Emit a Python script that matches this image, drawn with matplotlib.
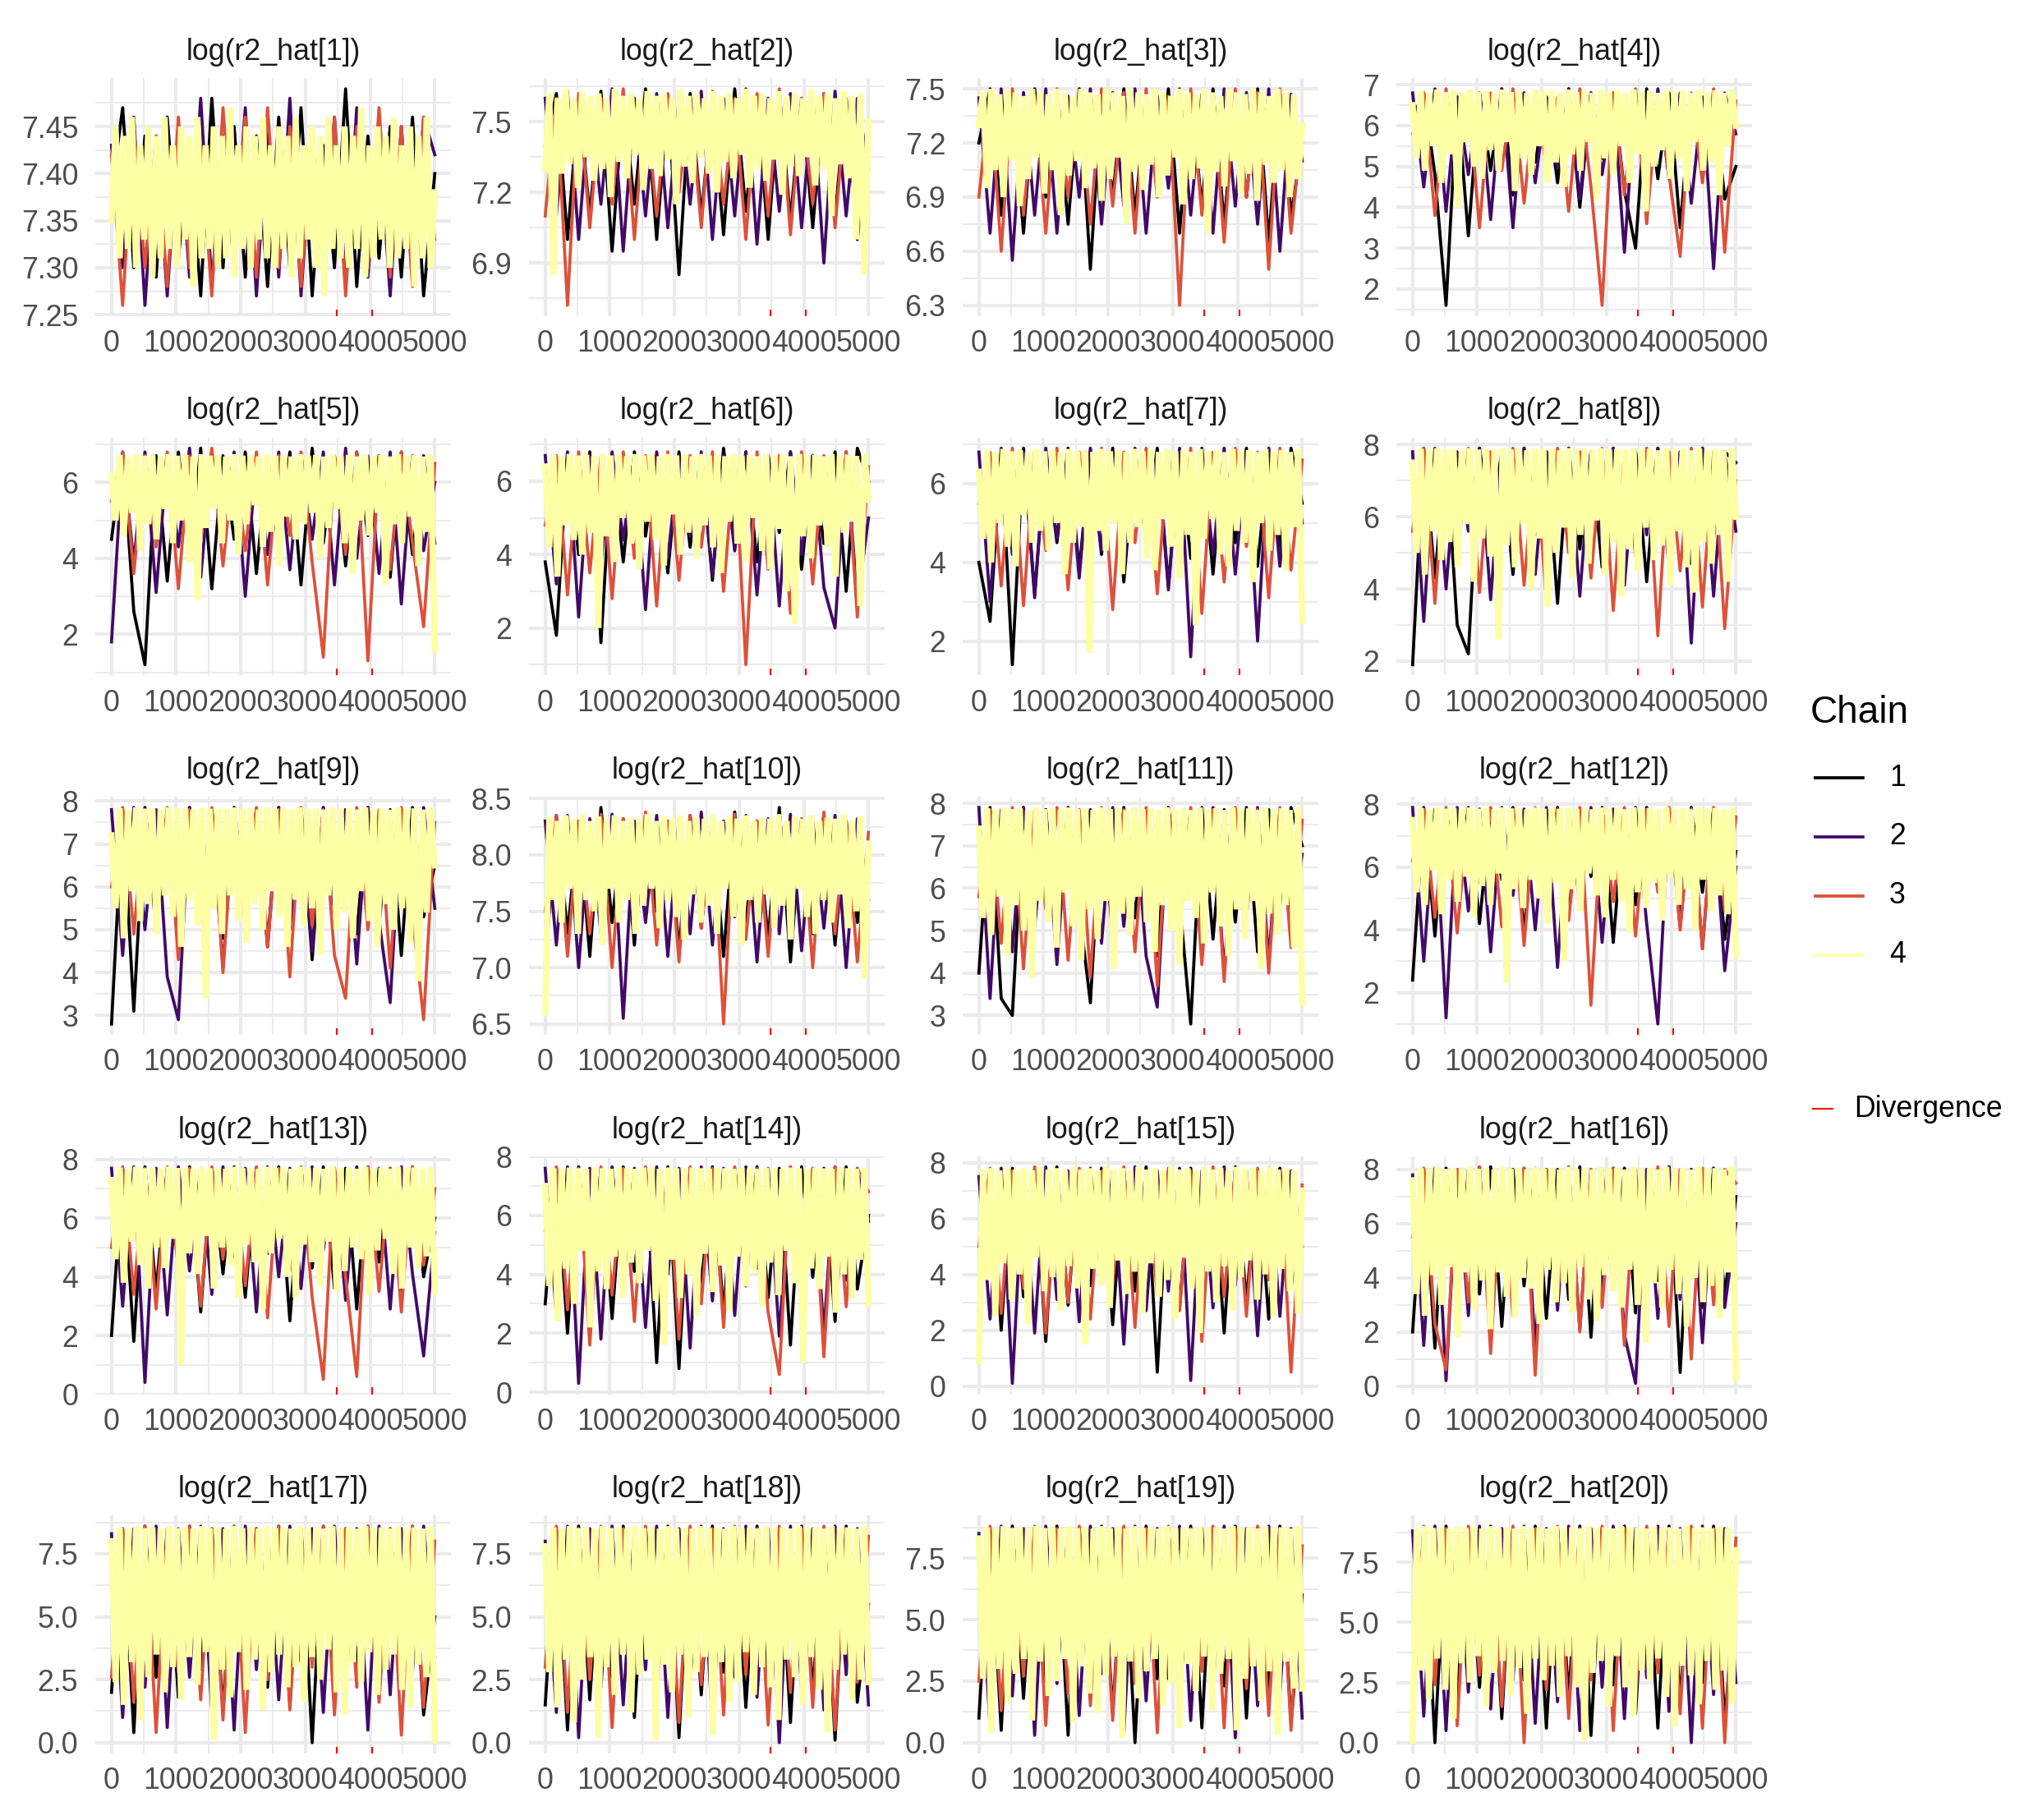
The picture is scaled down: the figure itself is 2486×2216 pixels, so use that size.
import numpy as np
import matplotlib.pyplot as plt
from matplotlib.lines import Line2D

plt.rcParams['font.family'] = ['Liberation Sans', 'DejaVu Sans']

chain_colors = ['#000004', '#420A68', '#DD513A', '#FCFFA4']
chain_labels = ['1', '2', '3', '4']
divergences = [3490, 4030]
n_iter = 5000

trace_01 = [
    [7.38, 7.47, 7.30, 7.44, 7.29, 7.46, 7.31, 7.43, 7.27, 7.48, 7.30, 7.45, 7.29, 7.44, 7.28, 7.46, 7.30, 7.47, 7.27, 7.43, 7.30, 7.49, 7.28, 7.44, 7.31, 7.45, 7.29, 7.46, 7.27, 7.40],
    [7.43, 7.30, 7.46, 7.26, 7.44, 7.27, 7.45, 7.29, 7.48, 7.28, 7.44, 7.30, 7.47, 7.27, 7.45, 7.29, 7.48, 7.27, 7.44, 7.30, 7.46, 7.28, 7.47, 7.29, 7.44, 7.27, 7.45, 7.29, 7.46, 7.42],
    [7.42, 7.26, 7.45, 7.30, 7.44, 7.28, 7.46, 7.30, 7.43, 7.27, 7.47, 7.31, 7.46, 7.29, 7.47, 7.30, 7.45, 7.28, 7.44, 7.30, 7.46, 7.27, 7.45, 7.30, 7.47, 7.29, 7.45, 7.28, 7.46, 7.33],
    [7.35, 7.45, 7.31, 7.44, 7.32, 7.46, 7.30, 7.43, 7.33, 7.45, 7.29, 7.44, 7.31, 7.46, 7.32, 7.43, 7.30, 7.45, 7.33, 7.44, 7.28, 7.46, 7.31, 7.43, 7.32, 7.45, 7.30, 7.44, 7.31, 7.47, 7.29, 7.43, 7.32, 7.45, 7.30, 7.44, 7.33, 7.46, 7.31, 7.43,
     7.30, 7.45, 7.32, 7.44, 7.29, 7.46, 7.31, 7.43, 7.33, 7.45, 7.30, 7.44, 7.27, 7.46, 7.32, 7.43, 7.31, 7.45, 7.30, 7.44, 7.32, 7.47, 7.29, 7.43, 7.31, 7.45, 7.33, 7.44, 7.30, 7.46, 7.31, 7.43, 7.32, 7.45, 7.28, 7.44, 7.31, 7.46, 7.30, 7.38],
]
trace_02 = [
    [7.4, 7.62, 7.0, 7.6, 7.1, 7.63, 6.95, 7.6, 7.15, 7.64, 7.0, 7.6, 6.85, 7.62, 7.1, 7.58, 7.02, 7.64, 7.12, 7.6, 7.0, 7.63, 7.08, 7.6, 7.05, 7.62, 7.1, 7.6, 7.0, 7.4],
    [7.6, 7.1, 7.63, 7.0, 7.6, 7.15, 7.64, 6.95, 7.6, 7.1, 7.62, 7.05, 7.6, 7.15, 7.63, 7.0, 7.6, 7.1, 7.64, 6.98, 7.6, 7.12, 7.62, 7.05, 7.6, 6.9, 7.63, 7.1, 7.6, 7.3],
    [7.1, 7.6, 6.72, 7.62, 7.05, 7.6, 7.15, 7.64, 7.0, 7.6, 7.1, 7.62, 7.2, 7.6, 7.05, 7.63, 7.15, 7.6, 7.0, 7.62, 7.1, 7.64, 7.02, 7.6, 7.15, 7.62, 7.05, 7.6, 7.1, 7.4],
    [7.30, 7.62, 6.85, 7.60, 7.28, 7.64, 7.32, 7.60, 7.22, 7.63, 7.35, 7.61, 7.25, 7.62, 7.30, 7.60, 7.18, 7.64, 7.33, 7.61, 7.26, 7.62, 7.36, 7.60, 7.21, 7.63, 7.30, 7.61, 7.27, 7.62, 7.34, 7.60, 7.15, 7.64, 7.31, 7.61, 7.24, 7.62, 7.35, 7.60,
     7.28, 7.63, 7.20, 7.61, 7.33, 7.62, 7.26, 7.60, 7.36, 7.64, 7.22, 7.61, 7.30, 7.62, 7.25, 7.60, 7.34, 7.63, 7.19, 7.61, 7.31, 7.62, 7.27, 7.60, 7.35, 7.64, 7.23, 7.61, 7.30, 7.62, 7.10, 7.60, 7.32, 7.63, 7.26, 7.61, 7.00, 7.62, 6.85, 7.50],
]
trace_03 = [
    [7.2, 7.5, 6.8, 7.48, 6.7, 7.5, 6.9, 7.45, 6.75, 7.5, 6.5, 7.47, 6.9, 7.5, 6.8, 7.46, 6.95, 7.5, 6.7, 7.48, 6.85, 7.5, 6.75, 7.46, 6.9, 7.5, 6.65, 7.48, 6.8, 7.2],
    [7.45, 6.7, 7.5, 6.55, 7.48, 6.8, 7.5, 6.7, 7.46, 6.9, 7.5, 6.75, 7.48, 6.85, 7.5, 6.7, 7.46, 6.95, 7.5, 6.8, 7.47, 6.7, 7.5, 6.85, 7.48, 6.75, 7.5, 6.6, 7.47, 7.1],
    [6.9, 7.48, 6.6, 7.5, 6.8, 7.46, 6.7, 7.5, 6.9, 7.47, 6.75, 7.5, 6.85, 7.48, 6.7, 7.5, 6.9, 7.46, 6.3, 7.5, 6.8, 7.47, 6.65, 7.5, 6.9, 7.48, 6.5, 7.5, 6.7, 7.3],
    [7.30, 7.48, 6.95, 7.50, 7.05, 7.47, 6.90, 7.50, 7.10, 7.48, 6.85, 7.46, 7.00, 7.50, 7.12, 7.48, 6.92, 7.47, 7.05, 7.50, 6.80, 7.48, 7.02, 7.46, 7.10, 7.50, 6.95, 7.48, 7.06, 7.47, 6.88, 7.50, 7.00, 7.48, 7.12, 7.46, 6.75, 7.50, 7.04, 7.48,
     6.94, 7.47, 7.08, 7.50, 6.90, 7.48, 7.02, 7.46, 7.12, 7.50, 6.86, 7.48, 7.00, 7.47, 7.06, 7.50, 6.70, 7.48, 7.04, 7.46, 6.96, 7.50, 7.10, 7.48, 6.92, 7.47, 7.03, 7.50, 6.88, 7.48, 7.08, 7.46, 6.98, 7.50, 7.05, 7.48, 6.90, 7.47, 7.00, 7.30],
]
trace_04 = [
    [6.2, 6.8, 4.8, 1.6, 6.7, 3.3, 6.8, 4.9, 6.9, 4.3, 6.8, 5.1, 6.7, 4.6, 6.9, 4.0, 6.8, 5.2, 6.8, 4.4, 3.0, 6.9, 4.7, 6.8, 3.5, 6.7, 4.9, 6.8, 4.2, 5.0],
    [6.8, 4.5, 6.9, 3.9, 6.7, 4.8, 6.8, 3.7, 6.9, 3.5, 6.8, 4.6, 6.7, 5.0, 6.9, 4.2, 6.8, 4.8, 6.7, 2.9, 6.8, 4.4, 6.9, 4.7, 6.8, 4.1, 6.7, 2.5, 6.8, 5.8],
    [5.8, 6.8, 3.8, 6.9, 4.6, 6.7, 3.5, 6.8, 4.9, 6.9, 4.1, 6.8, 5.0, 6.7, 3.9, 6.9, 4.5, 1.6, 6.8, 4.3, 6.9, 3.6, 6.7, 4.8, 2.8, 6.8, 4.6, 6.9, 2.9, 6.6],
    [6.50, 5.20, 6.85, 4.90, 6.80, 5.50, 6.88, 4.60, 6.82, 5.30, 6.86, 4.00, 6.80, 5.60, 6.88, 5.00, 6.83, 4.70, 6.85, 5.40, 6.80, 4.90, 6.88, 5.60, 6.82, 4.40, 6.86, 5.20, 6.80, 4.80, 6.88, 5.50, 6.83, 4.60, 6.85, 5.10, 6.80, 4.50, 6.88, 5.30,
     6.82, 4.90, 6.86, 5.60, 6.80, 4.20, 6.88, 5.20, 6.83, 4.80, 6.85, 5.50, 6.80, 4.60, 6.88, 5.30, 6.82, 3.90, 6.86, 5.00, 6.80, 5.40, 6.88, 4.70, 6.83, 5.20, 6.85, 4.40, 6.80, 5.60, 6.88, 4.90, 6.82, 5.10, 6.86, 4.30, 6.80, 5.50, 6.88, 6.00],
]
trace_05 = [
    [4.5, 6.8, 2.6, 1.2, 6.7, 3.4, 6.8, 4.0, 6.9, 3.2, 6.7, 4.5, 6.8, 3.6, 6.7, 4.2, 6.8, 3.3, 6.9, 4.4, 6.7, 3.8, 6.8, 4.6, 6.7, 3.5, 6.8, 4.1, 6.7, 4.4],
    [1.8, 6.7, 3.9, 6.8, 3.1, 6.7, 4.3, 6.9, 3.5, 6.7, 4.6, 6.8, 3.0, 6.7, 4.1, 6.8, 3.7, 6.7, 4.5, 6.8, 3.3, 6.9, 4.0, 6.7, 3.6, 6.8, 2.8, 6.7, 4.2, 6.0],
    [5.5, 6.8, 3.6, 6.7, 4.3, 6.8, 3.2, 6.7, 4.5, 6.9, 3.8, 6.7, 4.2, 6.8, 3.3, 6.7, 4.6, 6.8, 3.9, 1.4, 6.7, 4.1, 6.8, 1.3, 6.7, 3.7, 6.8, 4.4, 2.2, 6.5],
    [6.20, 5.00, 6.72, 4.60, 6.68, 5.20, 6.74, 4.20, 6.70, 4.90, 6.72, 4.50, 6.68, 5.30, 6.74, 4.40, 6.70, 5.00, 6.72, 3.90, 6.68, 2.90, 6.74, 4.80, 6.70, 5.30, 6.72, 4.40, 6.68, 5.00, 6.74, 4.10, 6.70, 4.90, 6.72, 5.40, 6.68, 4.30, 6.74, 4.70,
     6.70, 3.80, 6.72, 5.10, 6.68, 4.50, 6.74, 4.90, 6.70, 5.20, 6.72, 4.00, 6.68, 4.80, 6.74, 5.30, 6.70, 4.40, 6.72, 3.60, 6.68, 5.00, 6.74, 4.60, 6.70, 5.20, 6.72, 3.30, 6.68, 4.90, 6.74, 4.40, 6.70, 5.10, 6.72, 3.80, 6.68, 4.70, 6.74, 1.60],
]
trace_06 = [
    [3.8, 1.8, 6.7, 4.0, 6.8, 1.6, 6.7, 3.8, 6.8, 4.5, 6.7, 3.5, 6.8, 4.2, 6.7, 3.3, 6.9, 4.4, 6.8, 3.8, 6.7, 4.6, 6.8, 3.6, 6.7, 4.3, 6.8, 3.0, 6.9, 6.0],
    [6.7, 3.2, 6.8, 2.3, 6.7, 3.7, 6.8, 4.4, 6.7, 2.5, 6.8, 3.9, 6.7, 4.5, 6.8, 3.4, 6.7, 4.1, 6.8, 2.9, 6.7, 2.6, 6.8, 4.0, 6.7, 3.1, 2.0, 6.8, 2.7, 5.0],
    [4.8, 6.7, 2.9, 6.8, 3.5, 6.7, 2.8, 6.8, 3.9, 6.7, 2.6, 6.8, 3.3, 6.7, 4.2, 6.8, 3.0, 6.7, 1.0, 6.8, 3.6, 6.7, 2.4, 6.8, 3.2, 6.7, 4.0, 6.8, 2.3, 6.4],
    [6.40, 4.20, 6.72, 3.40, 6.68, 4.80, 6.74, 4.40, 6.70, 4.00, 6.72, 4.60, 6.68, 2.00, 6.74, 4.50, 6.70, 3.80, 6.72, 5.00, 6.68, 4.30, 6.74, 3.60, 6.70, 4.90, 6.72, 4.40, 6.68, 3.70, 6.74, 5.10, 6.70, 4.00, 6.72, 4.60, 6.68, 3.90, 6.74, 4.80,
     6.70, 4.20, 6.72, 3.50, 6.68, 4.90, 6.74, 4.30, 6.70, 3.80, 6.72, 5.00, 6.68, 4.10, 6.74, 3.60, 6.70, 4.70, 6.72, 3.00, 6.68, 2.10, 6.74, 4.50, 6.70, 3.90, 6.72, 4.80, 6.68, 4.20, 6.74, 3.40, 6.70, 4.60, 6.72, 4.90, 6.68, 2.60, 6.74, 5.50],
]
trace_07 = [
    [4.0, 2.5, 6.8, 1.4, 6.9, 3.2, 6.8, 4.5, 6.9, 3.8, 6.8, 4.2, 6.9, 3.5, 6.8, 4.8, 6.9, 3.4, 6.8, 4.1, 6.9, 3.7, 6.8, 4.5, 6.9, 3.9, 6.8, 4.3, 6.9, 5.5],
    [6.8, 3.0, 6.9, 4.2, 6.8, 3.1, 6.9, 4.6, 6.8, 3.6, 6.9, 4.3, 6.8, 3.8, 6.9, 4.5, 6.8, 3.3, 6.9, 1.6, 6.8, 4.2, 6.9, 3.7, 6.8, 2.0, 6.9, 3.9, 6.8, 5.0],
    [5.5, 6.8, 3.4, 6.9, 2.9, 6.8, 4.3, 6.9, 3.3, 6.8, 4.0, 6.9, 2.8, 6.8, 4.5, 6.9, 3.2, 6.8, 3.9, 6.9, 2.7, 6.8, 3.5, 6.9, 4.4, 6.8, 3.1, 6.9, 3.8, 6.6],
    [6.30, 4.60, 6.85, 4.00, 6.80, 5.00, 6.88, 4.40, 6.82, 3.90, 6.85, 5.20, 6.80, 4.50, 6.88, 4.80, 6.82, 4.30, 6.85, 5.00, 6.80, 3.70, 6.88, 4.50, 6.82, 4.90, 6.85, 1.70, 6.80, 4.80, 6.88, 4.30, 6.82, 5.00, 6.85, 3.70, 6.80, 4.50, 6.88, 4.90,
     6.82, 4.10, 6.85, 3.80, 6.80, 5.10, 6.88, 4.40, 6.82, 3.60, 6.85, 4.70, 6.80, 2.40, 6.88, 4.60, 6.82, 5.10, 6.85, 4.20, 6.80, 3.90, 6.88, 4.80, 6.82, 4.50, 6.85, 3.50, 6.80, 5.00, 6.88, 4.30, 6.82, 4.70, 6.85, 3.80, 6.80, 4.90, 6.88, 2.50],
]
trace_08 = [
    [1.9, 7.9, 4.3, 7.8, 3.0, 2.2, 7.9, 5.8, 7.8, 4.4, 7.9, 5.5, 7.8, 3.6, 7.9, 5.1, 7.8, 4.6, 7.9, 5.9, 7.8, 4.2, 7.9, 5.0, 7.8, 4.7, 7.9, 5.4, 7.8, 7.5],
    [7.8, 3.1, 7.9, 4.0, 7.8, 5.6, 7.9, 3.7, 7.8, 5.0, 7.9, 4.4, 7.8, 5.8, 7.9, 3.8, 7.8, 5.2, 7.9, 4.1, 7.8, 5.5, 7.9, 4.6, 7.8, 2.5, 7.9, 3.8, 7.8, 5.6],
    [5.6, 7.9, 3.6, 7.8, 4.8, 7.9, 3.9, 7.8, 5.3, 7.9, 4.1, 7.8, 3.7, 7.9, 5.0, 7.8, 4.3, 7.9, 3.4, 7.8, 4.9, 7.9, 2.7, 7.8, 4.5, 7.9, 3.5, 7.8, 2.9, 7.0],
    [7.50, 5.00, 7.88, 4.40, 7.84, 5.60, 7.90, 4.80, 7.86, 5.30, 7.88, 4.60, 7.84, 5.80, 7.90, 4.20, 7.86, 5.40, 7.88, 4.90, 7.84, 2.60, 7.90, 5.20, 7.86, 4.60, 7.88, 5.80, 7.84, 4.00, 7.90, 5.40, 7.86, 3.50, 7.88, 5.00, 7.84, 5.70, 7.90, 4.30,
     7.86, 5.50, 7.88, 4.70, 7.84, 5.90, 7.90, 4.40, 7.86, 5.30, 7.88, 3.80, 7.84, 5.10, 7.90, 4.50, 7.86, 5.70, 7.88, 4.80, 7.84, 5.20, 7.90, 4.10, 7.86, 5.60, 7.88, 4.60, 7.84, 3.90, 7.90, 5.30, 7.86, 4.70, 7.88, 5.50, 7.84, 4.20, 7.90, 6.00],
]
trace_09 = [
    [2.8, 7.8, 3.1, 7.85, 5.0, 7.8, 4.5, 7.85, 5.5, 7.8, 4.8, 7.85, 5.7, 7.8, 4.6, 7.85, 5.2, 7.8, 4.3, 7.85, 5.6, 7.8, 4.9, 7.85, 5.1, 7.8, 4.4, 7.85, 5.3, 6.5],
    [7.8, 4.4, 7.85, 5.0, 7.8, 3.9, 2.9, 7.85, 5.3, 7.8, 4.1, 7.85, 5.6, 7.8, 4.7, 7.85, 5.0, 7.8, 4.5, 7.85, 5.4, 7.8, 4.2, 7.85, 5.2, 3.3, 7.8, 4.8, 7.85, 5.5],
    [6.0, 7.85, 4.9, 7.8, 5.4, 7.85, 4.3, 7.8, 5.6, 7.85, 4.0, 7.8, 5.2, 7.85, 4.6, 7.8, 3.9, 7.85, 5.1, 7.8, 4.4, 3.4, 7.85, 5.0, 7.8, 4.1, 7.85, 5.3, 2.9, 7.5],
    [7.20, 5.50, 7.83, 4.80, 7.80, 5.90, 7.85, 5.20, 7.82, 5.60, 7.83, 4.90, 7.80, 5.80, 7.85, 5.30, 7.82, 4.60, 7.83, 5.70, 7.80, 5.10, 7.85, 3.40, 7.82, 5.50, 7.83, 4.90, 7.80, 5.80, 7.85, 5.20, 7.82, 4.70, 7.83, 5.60, 7.80, 5.00, 7.85, 5.90,
     7.82, 5.30, 7.83, 4.60, 7.80, 5.70, 7.85, 5.10, 7.82, 5.50, 7.83, 4.40, 7.80, 5.80, 7.85, 5.00, 7.82, 5.40, 7.83, 4.80, 7.80, 5.90, 7.85, 5.20, 7.82, 4.60, 7.83, 5.60, 7.80, 5.00, 7.85, 5.50, 7.82, 4.70, 7.83, 3.80, 7.80, 5.40, 7.85, 6.50],
]
trace_10 = [
    [7.0, 8.35, 7.3, 8.3, 7.1, 8.42, 7.4, 8.32, 7.2, 8.36, 7.5, 8.3, 7.15, 8.35, 7.35, 8.32, 7.1, 8.38, 7.4, 8.3, 7.25, 8.42, 7.05, 8.32, 7.3, 8.36, 7.2, 8.3, 7.4, 8.0],
    [8.3, 7.2, 8.35, 7.0, 8.32, 7.3, 8.36, 6.55, 8.3, 7.4, 8.35, 7.1, 8.32, 7.3, 8.38, 7.2, 8.3, 7.45, 8.35, 7.05, 8.32, 7.3, 8.36, 7.15, 8.3, 7.35, 8.35, 7.0, 8.32, 7.6],
    [7.5, 8.35, 7.1, 8.3, 7.3, 8.36, 7.0, 8.32, 7.4, 8.38, 7.2, 8.3, 7.05, 8.35, 7.35, 8.32, 6.5, 8.36, 7.25, 8.3, 7.1, 8.35, 7.4, 8.32, 7.0, 8.38, 7.3, 8.3, 7.05, 8.2],
    [6.60, 8.33, 7.60, 8.30, 7.40, 8.35, 7.70, 8.32, 7.30, 8.36, 7.60, 8.30, 7.50, 8.34, 7.20, 8.32, 7.70, 8.35, 7.40, 8.30, 7.60, 8.33, 7.30, 8.32, 7.55, 8.36, 7.70, 8.30, 7.35, 8.34, 7.60, 8.32, 7.45, 8.35, 7.25, 8.30, 7.65, 8.33, 7.40, 8.32,
     7.55, 8.36, 7.30, 8.30, 7.70, 8.34, 7.45, 8.32, 7.20, 8.35, 7.60, 8.30, 7.40, 8.33, 7.65, 8.32, 7.35, 8.36, 7.55, 8.30, 7.25, 8.34, 7.70, 8.32, 7.45, 8.35, 7.30, 8.30, 7.60, 8.33, 7.40, 8.32, 7.65, 8.36, 7.35, 8.30, 7.50, 8.34, 6.90, 8.10],
]
trace_11 = [
    [4.0, 7.9, 3.4, 3.0, 7.9, 5.1, 7.85, 4.6, 7.9, 5.5, 3.3, 7.85, 4.9, 7.9, 5.3, 7.85, 4.4, 7.9, 5.7, 2.8, 7.9, 4.8, 7.85, 5.2, 7.9, 4.5, 7.85, 5.6, 7.9, 7.0],
    [7.9, 3.4, 7.85, 4.5, 7.9, 5.3, 7.85, 4.2, 7.9, 5.8, 7.85, 4.7, 7.9, 5.1, 7.85, 4.4, 3.2, 7.9, 5.5, 7.85, 4.6, 7.9, 4.0, 7.85, 5.4, 7.9, 4.3, 7.85, 5.0, 6.8],
    [5.8, 7.85, 4.7, 7.9, 4.1, 7.85, 5.5, 7.9, 4.3, 7.85, 3.9, 7.9, 5.2, 7.85, 4.5, 7.9, 3.7, 7.85, 5.0, 7.9, 4.2, 7.85, 3.8, 7.9, 5.3, 7.85, 4.0, 7.9, 4.6, 7.6],
    [7.40, 5.30, 7.88, 4.90, 7.84, 5.80, 7.90, 4.40, 7.86, 5.60, 7.88, 5.00, 7.84, 3.90, 7.90, 5.70, 7.86, 5.20, 7.88, 4.60, 7.84, 5.90, 7.90, 5.10, 7.86, 4.30, 7.88, 5.50, 7.84, 4.80, 7.90, 5.70, 7.86, 4.10, 7.88, 5.40, 7.84, 4.90, 7.90, 5.80,
     7.86, 5.20, 7.88, 4.50, 7.84, 5.60, 7.90, 5.00, 7.86, 4.20, 7.88, 5.70, 7.84, 5.30, 7.90, 4.70, 7.86, 5.90, 7.88, 5.10, 7.84, 4.40, 7.90, 5.50, 7.86, 4.80, 7.88, 5.70, 7.84, 4.10, 7.90, 5.40, 7.86, 4.90, 7.88, 5.60, 7.84, 4.60, 7.90, 3.30],
]
trace_12 = [
    [2.4, 7.9, 3.8, 7.85, 5.3, 7.9, 4.2, 7.85, 5.6, 7.9, 3.9, 7.85, 5.0, 7.9, 4.5, 7.85, 5.7, 7.9, 3.6, 7.85, 4.8, 7.9, 5.4, 7.85, 4.1, 7.9, 5.2, 7.85, 3.7, 6.5],
    [7.9, 3.0, 7.85, 1.2, 7.9, 4.6, 7.85, 3.3, 7.9, 5.1, 7.85, 4.0, 7.9, 2.8, 7.85, 4.8, 7.9, 3.6, 7.85, 5.3, 7.9, 4.2, 1.0, 7.85, 4.7, 7.9, 3.4, 7.85, 2.7, 6.0],
    [6.2, 7.85, 4.4, 7.9, 3.9, 7.85, 5.5, 7.9, 4.1, 7.85, 3.5, 7.9, 5.0, 7.85, 4.3, 7.9, 1.6, 7.85, 4.9, 7.9, 3.8, 7.85, 5.2, 7.9, 4.0, 7.85, 3.4, 7.9, 4.6, 7.6],
    [7.50, 5.20, 7.88, 4.80, 7.84, 5.90, 7.90, 4.50, 7.86, 5.60, 7.88, 4.90, 7.84, 5.70, 7.90, 4.40, 7.86, 5.40, 7.88, 4.80, 7.84, 5.80, 7.90, 2.30, 7.86, 5.30, 7.88, 4.70, 7.84, 5.60, 7.90, 5.00, 7.86, 4.20, 7.88, 5.50, 7.84, 3.00, 7.90, 5.30,
     7.86, 4.60, 7.88, 5.80, 7.84, 5.10, 7.90, 4.40, 7.86, 5.60, 7.88, 4.90, 7.84, 3.90, 7.90, 5.20, 7.86, 4.70, 7.88, 5.50, 7.84, 4.30, 7.90, 5.70, 7.86, 4.80, 7.88, 5.30, 7.84, 4.00, 7.90, 5.60, 7.86, 4.60, 7.88, 5.10, 7.84, 4.50, 7.90, 3.20],
]
trace_13 = [
    [2.0, 7.7, 1.8, 7.75, 3.5, 7.7, 4.6, 7.75, 2.8, 7.7, 4.1, 7.75, 3.3, 7.7, 4.8, 7.75, 2.5, 7.7, 4.3, 7.75, 3.6, 7.7, 2.9, 7.75, 4.5, 7.7, 3.1, 7.75, 4.0, 6.0],
    [7.7, 3.0, 7.75, 0.4, 7.7, 2.7, 7.75, 4.2, 7.7, 3.4, 7.75, 4.7, 7.7, 2.8, 7.75, 4.0, 7.7, 3.6, 7.75, 4.9, 7.7, 3.2, 7.75, 4.4, 7.7, 2.9, 7.75, 4.1, 1.3, 5.5],
    [5.0, 7.75, 3.4, 7.7, 2.9, 7.75, 4.3, 7.7, 3.0, 7.75, 4.6, 7.7, 3.7, 7.75, 2.6, 7.7, 4.2, 7.75, 3.3, 0.5, 7.7, 4.0, 0.6, 7.75, 3.5, 7.7, 2.8, 7.75, 4.4, 7.0],
    [7.30, 4.60, 7.72, 3.80, 7.68, 5.20, 7.75, 4.40, 7.70, 3.60, 7.72, 5.00, 7.68, 4.30, 7.75, 5.30, 7.70, 1.00, 7.72, 4.80, 7.68, 4.10, 7.75, 5.40, 7.70, 3.60, 7.72, 5.00, 7.68, 4.40, 7.75, 3.30, 7.70, 5.10, 7.72, 4.50, 7.68, 2.90, 7.75, 4.80,
     7.70, 5.30, 7.72, 4.00, 7.68, 3.30, 7.75, 5.10, 7.70, 4.50, 7.72, 3.70, 7.68, 5.20, 7.75, 3.50, 7.70, 4.20, 7.72, 5.00, 7.68, 4.60, 7.75, 3.40, 7.70, 4.90, 7.72, 5.30, 7.68, 4.10, 7.75, 3.60, 7.70, 5.00, 7.72, 4.30, 7.68, 4.70, 7.75, 3.50],
]
trace_14 = [
    [3.0, 7.6, 2.0, 7.65, 3.4, 7.6, 2.5, 7.65, 4.1, 7.6, 1.0, 7.65, 0.8, 7.6, 3.6, 7.65, 2.7, 7.6, 4.3, 7.65, 3.2, 7.6, 1.6, 7.65, 3.9, 7.6, 2.4, 7.65, 3.5, 6.0],
    [7.6, 2.6, 7.65, 0.3, 7.6, 1.8, 7.65, 3.7, 7.6, 2.2, 7.65, 4.0, 7.6, 1.5, 7.65, 3.1, 7.6, 2.6, 7.65, 4.2, 7.6, 1.9, 7.65, 3.3, 7.6, 2.0, 7.65, 3.8, 7.6, 5.8],
    [5.5, 7.65, 2.8, 7.6, 1.6, 7.65, 3.3, 7.6, 2.4, 7.65, 3.9, 7.6, 1.8, 7.65, 3.0, 7.6, 2.2, 7.65, 3.6, 7.6, 2.7, 0.6, 7.65, 3.4, 7.6, 1.2, 7.65, 2.9, 7.6, 6.8],
    [7.00, 3.60, 7.60, 2.40, 7.58, 4.20, 7.62, 3.00, 7.60, 4.80, 7.58, 2.20, 7.62, 4.10, 7.60, 3.50, 7.58, 4.60, 7.62, 3.20, 7.60, 4.40, 7.58, 3.70, 7.62, 4.80, 7.60, 3.10, 7.58, 1.60, 7.62, 4.50, 7.60, 3.20, 7.58, 4.00, 7.62, 2.60, 7.60, 4.70,
     7.58, 3.40, 7.62, 4.30, 7.60, 2.80, 7.58, 4.60, 7.62, 3.60, 7.60, 4.10, 7.58, 2.90, 7.62, 4.40, 7.60, 3.30, 7.58, 4.80, 7.62, 3.70, 7.60, 1.00, 7.58, 4.20, 7.62, 3.50, 7.60, 4.60, 7.58, 2.70, 7.62, 4.00, 7.60, 3.20, 7.58, 4.50, 7.62, 3.00],
]
trace_15 = [
    [2.7, 7.7, 2.0, 7.8, 3.2, 7.7, 1.6, 7.85, 2.9, 7.7, 3.6, 7.8, 2.2, 7.7, 3.4, 7.85, 0.5, 7.7, 2.8, 7.8, 3.7, 7.7, 1.9, 7.85, 3.0, 7.7, 2.4, 7.8, 3.5, 6.5],
    [7.5, 2.4, 7.8, 0.1, 7.7, 1.9, 7.85, 3.1, 7.7, 2.3, 7.8, 3.8, 7.7, 1.5, 7.85, 2.7, 7.7, 3.4, 7.8, 0.2, 7.7, 2.8, 7.85, 3.6, 7.7, 1.8, 7.8, 2.5, 7.7, 5.0],
    [5.0, 7.8, 2.6, 7.7, 3.5, 7.85, 1.9, 7.7, 3.0, 7.8, 2.4, 7.7, 3.7, 7.85, 2.1, 7.7, 3.3, 7.8, 2.7, 7.7, 1.6, 7.85, 3.2, 7.7, 2.5, 7.8, 3.8, 7.7, 0.5, 7.2],
    [0.90, 7.75, 3.80, 7.80, 2.50, 7.72, 4.40, 7.85, 3.10, 7.75, 4.00, 7.80, 2.20, 7.72, 4.60, 7.85, 3.40, 7.75, 3.90, 7.80, 2.70, 7.72, 4.30, 7.85, 3.50, 7.75, 1.50, 7.80, 4.20, 7.72, 3.60, 7.85, 2.80, 7.75, 4.50, 7.80, 3.30, 7.72, 4.10, 7.85,
     2.60, 7.75, 4.40, 7.80, 3.20, 7.72, 3.80, 7.85, 2.40, 7.75, 4.60, 7.80, 3.50, 7.72, 1.90, 7.85, 4.10, 7.75, 3.00, 7.80, 4.30, 7.72, 2.70, 7.85, 3.90, 7.75, 4.50, 7.80, 3.10, 7.72, 4.00, 7.85, 2.50, 7.75, 4.20, 7.80, 3.40, 7.72, 2.60, 7.00],
]
trace_16 = [
    [2.0, 8.0, 1.4, 8.05, 2.8, 8.0, 3.4, 8.1, 2.2, 8.0, 3.7, 8.05, 2.5, 8.0, 3.2, 8.1, 1.8, 8.0, 3.6, 8.05, 2.7, 8.0, 3.9, 8.1, 0.5, 8.0, 2.9, 8.05, 3.3, 7.0],
    [7.8, 1.5, 8.05, 0.2, 8.0, 2.6, 8.1, 1.7, 8.0, 3.0, 8.05, 1.4, 8.0, 2.8, 8.1, 2.1, 8.0, 3.4, 8.05, 1.9, 0.1, 8.0, 2.5, 8.1, 3.2, 8.0, 1.6, 8.05, 2.9, 6.0],
    [5.5, 8.05, 2.3, 0.6, 8.0, 3.1, 8.1, 1.2, 8.0, 2.6, 8.05, 0.4, 8.0, 3.3, 8.1, 2.0, 8.0, 2.9, 8.05, 1.5, 8.0, 3.5, 8.1, 2.2, 8.0, 1.0, 8.05, 3.0, 8.0, 7.5],
    [7.60, 3.40, 8.05, 2.60, 8.00, 4.10, 8.10, 3.00, 8.02, 4.40, 8.05, 1.80, 8.00, 4.20, 8.10, 2.80, 8.02, 3.90, 8.05, 2.10, 8.00, 4.20, 8.10, 3.30, 8.02, 2.50, 8.05, 4.00, 8.00, 3.60, 8.10, 2.30, 8.02, 4.30, 8.05, 3.10, 8.00, 3.80, 8.10, 2.70,
     8.02, 4.40, 8.05, 3.20, 8.00, 2.40, 8.10, 4.10, 8.02, 3.50, 8.05, 2.90, 8.00, 4.30, 8.10, 3.00, 8.02, 1.60, 8.05, 3.80, 8.00, 2.90, 8.10, 4.30, 8.02, 3.40, 8.05, 2.20, 8.00, 4.00, 8.10, 3.10, 8.02, 3.70, 8.05, 2.50, 8.00, 4.20, 8.10, 0.30],
]
trace_17 = [
    [2.0, 8.5, 0.4, 8.6, 2.6, 8.5, 1.8, 8.6, 2.9, 8.5, 1.2, 8.6, 3.3, 8.5, 2.2, 8.6, 1.5, 8.5, 0.0, 8.6, 2.4, 8.5, 3.0, 8.6, 1.9, 8.5, 2.7, 8.6, 1.1, 5.0],
    [8.3, 1.0, 8.5, 2.2, 8.6, 0.6, 8.5, 2.6, 8.6, 1.3, 8.5, 0.5, 8.6, 2.9, 8.5, 1.7, 8.6, 3.2, 8.5, 1.2, 8.6, 2.4, 8.5, 0.5, 8.6, 1.9, 8.5, 2.8, 8.6, 3.4],
    [2.6, 8.5, 1.6, 8.6, 0.4, 8.5, 2.8, 8.6, 1.7, 8.5, 0.9, 8.6, 0.4, 8.5, 2.5, 8.6, 1.3, 8.5, 3.0, 8.6, 1.1, 8.5, 2.2, 8.6, 1.6, 8.5, 0.3, 8.6, 1.4, 8.0],
    [8.00, 2.40, 8.55, 1.50, 8.50, 3.20, 8.60, 0.90, 8.52, 2.60, 8.55, 3.50, 8.50, 2.00, 8.60, 3.00, 8.52, 1.70, 8.55, 3.40, 8.50, 2.30, 8.60, 3.60, 8.52, 0.10, 8.55, 2.90, 8.50, 1.80, 8.60, 3.60, 8.52, 2.10, 8.55, 3.30, 8.50, 1.30, 8.60, 2.80,
     8.52, 3.50, 8.55, 2.20, 8.50, 3.00, 8.60, 1.60, 8.52, 3.40, 8.55, 2.50, 8.50, 3.70, 8.60, 2.00, 8.52, 1.10, 8.55, 3.20, 8.50, 2.40, 8.60, 3.60, 8.52, 1.90, 8.55, 2.90, 8.50, 3.50, 8.60, 2.10, 8.52, 1.40, 8.55, 3.10, 8.50, 2.60, 8.60, 0.10],
]
trace_18 = [
    [1.5, 8.5, 0.5, 8.6, 1.7, 8.5, 2.6, 8.6, 1.0, 8.5, 2.3, 8.6, 0.2, 8.5, 1.9, 8.6, 2.8, 8.5, 1.4, 8.6, 2.5, 8.5, 0.8, 8.6, 2.0, 8.5, 0.1, 8.6, 1.6, 5.5],
    [8.0, 1.2, 8.6, 0.2, 8.5, 2.2, 8.6, 1.5, 8.5, 2.9, 8.6, 1.0, 8.5, 2.4, 8.6, 0.7, 8.5, 2.6, 8.6, 1.8, 8.5, 0.0, 8.6, 2.1, 8.5, 1.3, 8.6, 2.7, 8.5, 1.5],
    [3.0, 8.6, 1.2, 8.5, 2.5, 8.6, 0.6, 8.5, 2.9, 8.6, 1.6, 8.5, 0.8, 8.6, 2.3, 8.5, 1.1, 8.6, 2.7, 8.5, 0.7, 8.6, 2.0, 8.5, 1.4, 8.6, 0.5, 8.5, 2.4, 8.2],
    [7.80, 2.80, 8.55, 1.40, 8.50, 3.30, 8.60, 0.80, 8.52, 2.50, 8.55, 3.40, 8.50, 0.20, 8.60, 3.00, 8.52, 1.90, 8.55, 3.50, 8.50, 1.20, 8.60, 2.70, 8.52, 3.30, 8.55, 0.10, 8.50, 3.10, 8.60, 2.00, 8.52, 3.50, 8.55, 1.00, 8.50, 2.80, 8.60, 3.40,
     8.52, 0.30, 8.55, 3.20, 8.50, 1.60, 8.60, 2.40, 8.52, 3.60, 8.55, 1.90, 8.50, 3.00, 8.60, 2.20, 8.52, 0.90, 8.55, 3.30, 8.50, 2.60, 8.60, 1.50, 8.52, 3.40, 8.55, 2.10, 8.50, 0.40, 8.60, 2.90, 8.52, 3.50, 8.55, 1.70, 8.50, 2.50, 8.60, 2.40],
]
trace_19 = [
    [1.0, 8.7, 0.5, 8.8, 1.8, 8.7, 2.5, 8.8, 0.3, 8.7, 2.1, 8.8, 1.2, 8.7, 0.0, 8.8, 2.6, 8.7, 1.5, 8.8, 0.6, 8.7, 2.3, 8.8, 1.0, 8.7, 1.9, 8.8, 0.8, 6.0],
    [8.5, 0.6, 8.8, 1.9, 8.7, 0.3, 8.8, 2.4, 8.7, 1.1, 8.8, 2.8, 8.7, 0.4, 8.8, 1.7, 8.7, 2.6, 8.8, 0.9, 8.7, 2.2, 8.8, 0.2, 8.7, 1.5, 8.8, 2.0, 8.7, 1.0],
    [2.5, 8.8, 1.3, 8.7, 2.7, 8.8, 0.7, 8.7, 2.0, 8.8, 1.5, 8.7, 0.9, 8.8, 2.4, 8.7, 0.4, 8.8, 1.8, 8.7, 2.9, 8.8, 0.6, 8.7, 2.2, 8.8, 1.1, 8.7, 0.5, 8.0],
    [8.30, 2.60, 8.75, 0.40, 8.70, 3.00, 8.80, 1.60, 8.72, 2.80, 8.75, 3.40, 8.70, 0.90, 8.80, 3.30, 8.72, 1.90, 8.75, 2.50, 8.70, 3.40, 8.80, 0.80, 8.72, 3.10, 8.75, 2.00, 8.70, 1.20, 8.80, 2.70, 8.72, 3.50, 8.75, 0.20, 8.70, 3.30, 8.80, 1.80,
     8.72, 2.90, 8.75, 3.40, 8.70, 1.50, 8.80, 2.40, 8.72, 0.60, 8.75, 3.20, 8.70, 2.10, 8.80, 3.50, 8.72, 1.30, 8.75, 2.80, 8.70, 3.40, 8.80, 0.50, 8.72, 2.60, 8.75, 3.10, 8.70, 1.70, 8.80, 2.90, 8.72, 0.30, 8.75, 3.30, 8.70, 2.20, 8.80, 2.20],
]
trace_20 = [
    [1.5, 8.9, 0.0, 9.0, 1.8, 8.9, 2.3, 9.0, 1.0, 8.9, 2.6, 9.0, 0.6, 8.9, 1.9, 9.0, 0.3, 8.9, 2.4, 9.0, 1.2, 8.9, 0.6, 9.0, 1.7, 8.9, 2.5, 9.0, 0.9, 6.5],
    [8.8, 1.1, 9.0, 0.5, 8.9, 2.1, 9.0, 1.4, 8.9, 2.6, 9.0, 0.8, 8.9, 1.7, 9.0, 0.5, 8.9, 2.3, 9.0, 1.0, 8.9, 2.7, 9.0, 1.3, 8.9, 0.0, 9.0, 2.0, 8.9, 2.5],
    [1.2, 9.0, 2.4, 8.9, 0.7, 9.0, 2.8, 8.9, 1.5, 9.0, 0.0, 8.9, 2.2, 9.0, 1.0, 8.9, 2.6, 9.0, 0.5, 8.9, 1.8, 9.0, 2.9, 8.9, 1.2, 9.0, 0.6, 8.9, 0.0, 8.5],
    [0.10, 8.90, 3.00, 9.00, 1.80, 8.92, 3.50, 8.95, 2.20, 8.90, 1.00, 9.00, 3.30, 8.92, 2.50, 8.95, 3.60, 8.90, 1.50, 9.00, 2.90, 8.92, 3.40, 8.95, 2.00, 8.90, 3.10, 9.00, 1.20, 8.92, 3.50, 8.95, 2.60, 8.90, 3.20, 9.00, 1.90, 8.92, 3.60, 8.95,
     2.30, 8.90, 0.10, 9.00, 2.90, 8.92, 3.40, 8.95, 1.50, 8.90, 3.60, 9.00, 2.30, 8.92, 1.10, 8.95, 3.00, 8.90, 2.60, 9.00, 3.50, 8.92, 1.90, 8.95, 0.70, 8.90, 3.20, 9.00, 2.80, 8.92, 1.60, 8.95, 3.40, 8.90, 2.20, 9.00, 3.00, 8.92, 1.60, 8.00],
]

traces = [trace_01, trace_02, trace_03, trace_04, trace_05, trace_06, trace_07,
          trace_08, trace_09, trace_10, trace_11, trace_12, trace_13, trace_14,
          trace_15, trace_16, trace_17, trace_18, trace_19, trace_20]

yticks = [
    [7.25, 7.30, 7.35, 7.40, 7.45], [6.9, 7.2, 7.5], [6.3, 6.6, 6.9, 7.2, 7.5], [2, 3, 4, 5, 6, 7],
    [2, 4, 6], [2, 4, 6], [2, 4, 6], [2, 4, 6, 8],
    [3, 4, 5, 6, 7, 8], [6.5, 7.0, 7.5, 8.0, 8.5], [3, 4, 5, 6, 7, 8], [2, 4, 6, 8],
    [0, 2, 4, 6, 8], [0, 2, 4, 6, 8], [0, 2, 4, 6, 8], [0, 2, 4, 6, 8],
    [0, 2.5, 5, 7.5], [0, 2.5, 5, 7.5], [0, 2.5, 5, 7.5], [0, 2.5, 5, 7.5],
]
ytick_fmt = ['%.2f', '%.1f', '%.1f', '%d', '%d', '%d', '%d', '%d', '%d', '%.1f',
             '%d', '%d', '%d', '%d', '%d', '%d', '%.1f', '%.1f', '%.1f', '%.1f']
xticks = [0, 1000, 2000, 3000, 4000, 5000]

W, H = 2487, 2216
fig = plt.figure(figsize=(W / 300, H / 300), dpi=300)
grid_col = '#EBEBEB'
small = 8.6
pw, ph = 433, 290

for k in range(20):
    r, c = divmod(k, 4)
    left = (116 + 528 * c) / W
    bottom = 1 - (95 + 437.5 * r + ph) / H
    ax = fig.add_axes([left, bottom, pw / W, ph / H])

    allv = np.concatenate([np.array(v) for v in traces[k]])
    lo, hi = allv.min(), allv.max()
    pad = 0.05 * (hi - lo)
    ax.set_ylim(lo - pad, hi + pad)
    ax.set_xlim(-250, 5250)

    # grid, ggplot minimal style
    yt = np.array(yticks[k], dtype=float)
    step = yt[1] - yt[0]
    minors = np.concatenate([[yt[0] - step / 2], yt[:-1] + step / 2, [yt[-1] + step / 2]])
    for v in minors:
        if lo - pad <= v <= hi + pad:
            ax.axhline(v, color=grid_col, lw=0.5, zorder=0)
    for v in yt:
        ax.axhline(v, color=grid_col, lw=1.0, zorder=0)
    for v in range(500, 5000, 1000):
        ax.axvline(v, color=grid_col, lw=0.5, zorder=0)
    for v in xticks:
        ax.axvline(v, color=grid_col, lw=1.0, zorder=0)

    for ch in range(4):
        y = np.array(traces[k][ch])
        x = np.linspace(1, n_iter, len(y))
        lw = 1.8 if ch == 3 else 0.9
        ax.plot(x, y, color=chain_colors[ch], lw=lw, zorder=2 + ch,
                solid_joinstyle='miter' if ch == 3 else 'round')

    ax.vlines(divergences, 0, 0.028, transform=ax.get_xaxis_transform(),
              color='#FF0000', lw=0.5, zorder=7)

    ax.set_yticks(yt)
    ax.set_yticklabels([ytick_fmt[k] % v for v in yt])
    ax.set_xticks(xticks)
    ax.set_xticklabels([str(v) for v in xticks])
    ax.tick_params(length=0, labelsize=small, labelcolor='#4D4D4D')
    ax.tick_params(axis='y', pad=5.0)
    ax.tick_params(axis='x', pad=3.9)
    for s in ax.spines.values():
        s.set_visible(False)
    ax.text(0.5, 1 + 22 / ph, 'log(r2_hat[%d])' % (k + 1), transform=ax.transAxes,
            ha='center', va='baseline', fontsize=small, color='#1A1A1A')

# legend
fig.text(2204 / W, 1 - 868 / H, 'Chain', fontsize=11, va='center', ha='left')
for i, (col, lab) in enumerate(zip(chain_colors, chain_labels)):
    yy = 1 - (947 + 72 * i) / H
    fig.add_artist(Line2D([2210 / W, 2268 / W], [yy, yy], color=col, lw=0.9))
    fig.text(2300 / W, yy, lab, fontsize=small, va='center', ha='left')
yy = 1 - 1350 / H
fig.add_artist(Line2D([2207 / W, 2231 / W], [yy, yy], color='#FF0000', lw=0.5))
fig.text(2257 / W, yy, 'Divergence', fontsize=small, va='center', ha='left')

fig.savefig('out.png', dpi=300, facecolor='white')
